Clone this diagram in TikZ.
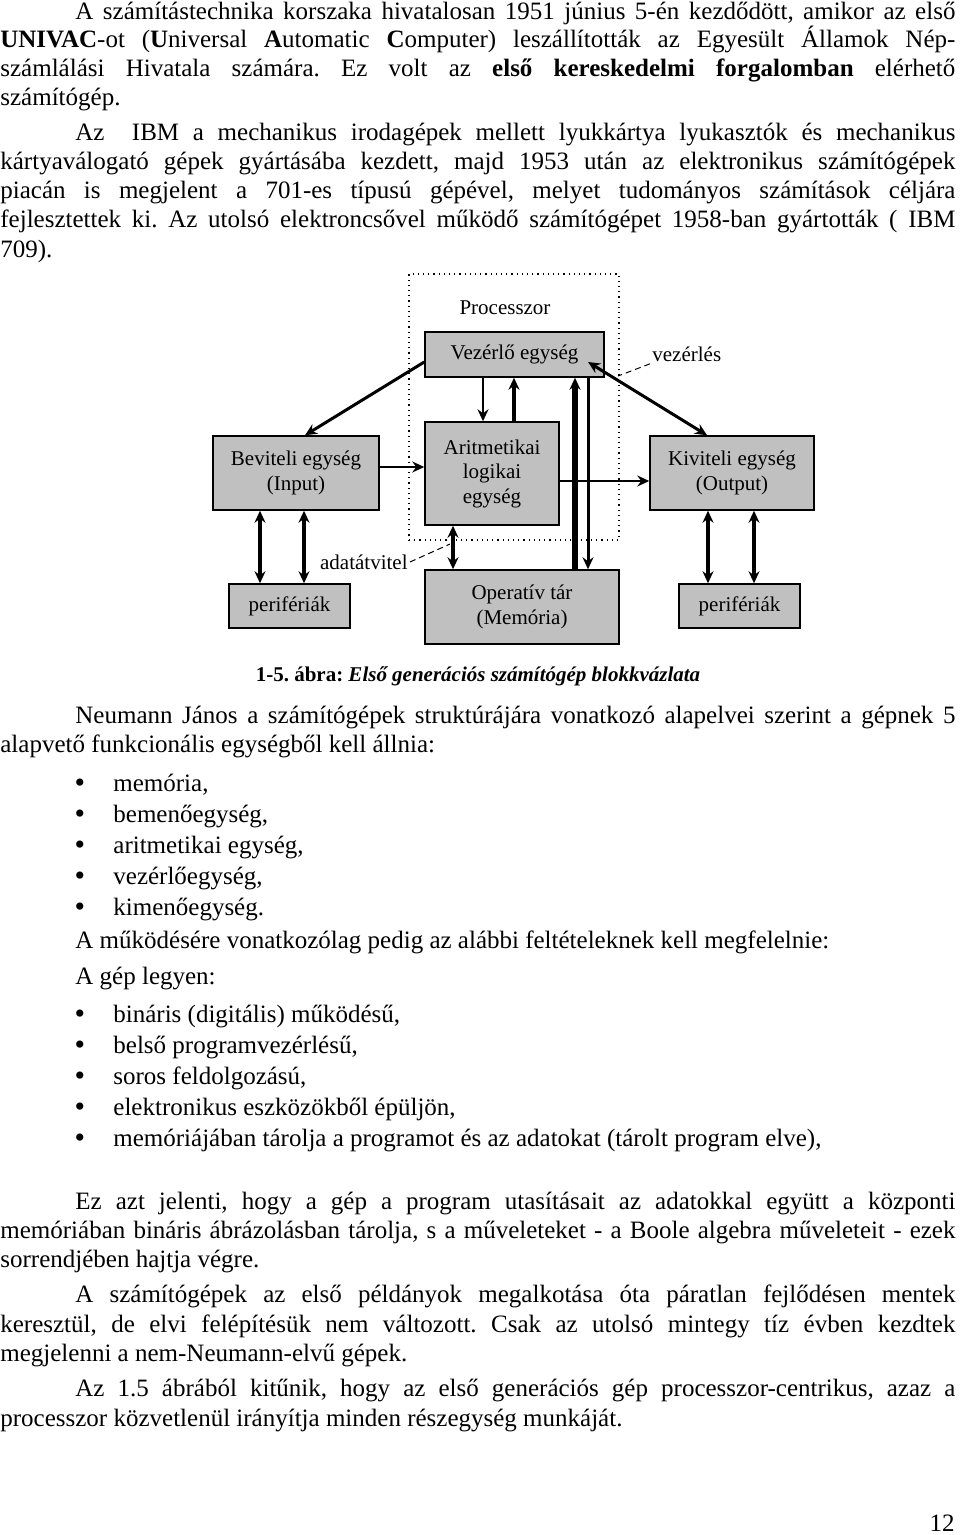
\documentclass[tikz,border=0pt]{standalone}
\usepackage{fontspec}
\setmainfont{Liberation Serif}
\frenchspacing
\usetikzlibrary{arrows.meta,calc}

\definecolor{boxgray}{RGB}{192,192,192}
\newlength\pxu
\setlength\pxu{0.5pt}
\newcommand\bodyfont{\fontsize{12.5}{15}\selectfont}
\newcommand\figfont{\fontsize{10.5}{12.25}\selectfont}
\newcommand\fulline[1]{\makebox[955\pxu][s]{#1}}
\newcommand\indline[1]{\makebox[880\pxu][s]{#1}}

\tikzset{
  txt/.style={anchor=base west, inner sep=0pt, font=\bodyfont},
  dot/.style={anchor=base, inner sep=0pt, font=\fontsize{15}{15}\selectfont},
  blk/.style={draw, line width=0.75pt, fill=boxgray, font=\figfont, align=center, inner sep=1pt},
  lbl/.style={font=\figfont, inner sep=1pt},
  tip/.tip={Stealth[length=6pt, width=5.5pt, inset=2pt]},
  arr/.style={line width=1.4pt, -tip},
  arrboth/.style={line width=1.8pt, tip-tip},
  lead/.style={densely dashed, line width=0.5pt},
}

\begin{document}
\begin{tikzpicture}[x=\pxu, y=-\pxu]
  \useasboundingbox (0,0) rectangle (960,1535);

  % text above the figure
  \node[txt] (t1) at (75,20) {\indline{A számítástechnika korszaka hivatalosan 1951 június 5-én kezdődött, amikor az első}};
  \node[txt] (t2) at (0,48) {\fulline{\textbf{UNIVAC}-ot (\textbf{U}niversal \textbf{A}utomatic \textbf{C}omputer) leszállították az Egyesült Államok Nép-}};
  \node[txt] (t3) at (0,77) {\fulline{számlálási Hivatala számára. Ez volt az \textbf{első kereskedelmi forgalomban} elérhető}};
  \node[txt] (t4) at (0,106) {számítógép.};
  \node[txt] (t5) at (75,141) {\indline{Az\ \ IBM a mechanikus irodagépek mellett lyukkártya lyukasztók és mechanikus}};
  \node[txt] (t6) at (0,170) {\fulline{kártyaválogató gépek gyártásába kezdett, majd 1953 után az elektronikus számítógépek}};
  \node[txt] (t7) at (0,199) {\fulline{piacán is megjelent a 701-es típusú gépével, melyet tudományos számítások céljára}};
  \node[txt] (t8) at (0,228) {\fulline{fejlesztettek ki. Az utolsó elektroncsővel működő számítógépet 1958-ban gyártották ( IBM}};
  \node[txt] (t9) at (0,258) {709).};

  % block diagram
  \node[draw, dotted, line width=0.6pt, minimum width=210\pxu, minimum height=266\pxu] (proc) at (514,407) {};
  \node[lbl] (proclbl) at (505,308) {Processzor};
  \node[blk, minimum width=179\pxu, minimum height=45\pxu] (vez) at (514.5,354.5) {Vezérlő egység};
  \node[blk, minimum width=134\pxu, minimum height=103\pxu] (alu) at (492,473.5) {Aritmetikai\\logikai\\egység};
  \node[blk, minimum width=166\pxu, minimum height=74\pxu] (bev) at (296,473) {Beviteli egység\\(Input)};
  \node[blk, minimum width=164\pxu, minimum height=74\pxu] (kiv) at (732,473) {Kiviteli egység\\(Output)};
  \node[blk, minimum width=194\pxu, minimum height=74\pxu] (mem) at (522,607) {Operatív tár\\(Memória)};
  \node[blk, minimum width=121\pxu, minimum height=44\pxu] (perbe) at (289.5,606) {perifériák};
  \node[blk, minimum width=121\pxu, minimum height=44\pxu] (perki) at (739.5,606) {perifériák};
  \node[lbl, anchor=west] (vezlbl) at (650,354) {vezérlés};
  \node[lbl, anchor=east] (adatlbl) at (410,562) {adatátvitel};
  \coordinate (vezpt) at (618,376);
  \coordinate (adatpt) at (450,544);

  \draw[arr, line width=1.5pt] (vez.west |- 0,362) -- (bev.north -| 305,0);
  \draw[arrboth, line width=1.5pt] ($(vez.center)+(73.5,7.5)$) -- (kiv.north -| 707,0);
  \draw[arr, line width=1pt] (vez.south -| 483,0) -- (alu.north -| 483,0);
  \draw[arr, line width=2pt] (alu.north -| 514,0) -- (vez.south -| 514,0);
  \draw[arr, line width=2.6pt] (mem.north -| 575,0) -- (vez.south -| 575,0);
  \draw[arr, line width=1.5pt] (vez.south -| 588,0) -- (mem.north -| 588,0);
  \draw[arr, line width=1.2pt] (bev.east |- 0,467) -- (alu.west |- 0,467);
  \draw[arr, line width=1.2pt] (alu.east |- 0,481) -- (kiv.west |- 0,481);
  \draw[arrboth] (alu.south -| 453,0) -- (mem.north -| 453,0);
  \foreach \x in {260,304}
    \draw[arrboth] (bev.south -| \x,0) -- (perbe.north -| \x,0);
  \foreach \x in {708,754}
    \draw[arrboth] (kiv.south -| \x,0) -- (perki.north -| \x,0);
  \draw[lead] (vezlbl.south west) -- (vezpt);
  \draw[lead] (adatlbl.east) -- (adatpt);

  \node[anchor=base, inner sep=0pt, font=\fontsize{10.5}{12}\selectfont] (cap) at (478,681)
    {\textbf{1-5. ábra: \textit{Első generációs számítógép blokkvázlata}}};

  % text below the figure
  \node[txt] (n1) at (75,723) {\indline{Neumann János a számítógépek struktúrájára vonatkozó alapelvei szerint a gépnek 5}};
  \node[txt] (n2) at (0,752) {alapvető funkcionális egységből kell állnia:};
  \foreach \y/\s [count=\i] in {791/{memória,}, 822/{bemenőegység,}, 853/{aritmetikai egység,},
      884/{vezérlőegység,}, 915/{kimenőegység.}} {
    \node[dot] (pa\i) at (80,\y+1) {•};
    \node[txt] (ea\i) at (113,\y) {\s};
  }
  \node[txt] (m1) at (75,948) {A működésére vonatkozólag pedig az alábbi feltételeknek kell megfelelnie:};
  \node[txt] (m2) at (75,984) {A gép legyen:};
  \foreach \y/\s [count=\i] in {1022/{bináris (digitális) működésű,}, 1053/{belső programvezérlésű,},
      1084/{soros feldolgozású,}, 1115/{elektronikus eszközökből épüljön,},
      1146/{memóriájában tárolja a programot és az adatokat (tárolt program elve),}} {
    \node[dot] (pb\i) at (80,\y+1) {•};
    \node[txt] (eb\i) at (113,\y) {\s};
  }
  \node[txt] (e1) at (75,1209) {\indline{Ez azt jelenti, hogy a gép a program utasításait az adatokkal együtt a központi}};
  \node[txt] (e2) at (0,1238) {\fulline{memóriában bináris ábrázolásban tárolja, s a műveleteket - a Boole algebra műveleteit - ezek}};
  \node[txt] (e3) at (0,1267) {sorrendjében hajtja végre.};
  \node[txt] (s1) at (75,1302) {\indline{A számítógépek az első példányok megalkotása óta páratlan fejlődésen mentek}};
  \node[txt] (s2) at (0,1332) {\fulline{keresztül, de elvi felépítésük nem változott. Csak az utolsó mintegy tíz évben kezdtek}};
  \node[txt] (s3) at (0,1361) {megjelenni a nem-Neumann-elvű gépek.};
  \node[txt] (z1) at (75,1396) {\indline{Az 1.5 ábrából kitűnik, hogy az első generációs gép processzor-centrikus, azaz a}};
  \node[txt] (z2) at (0,1426) {processzor közvetlenül irányítja minden részegység munkáját.};
  \node[txt, anchor=base east] (pg) at (955,1531) {12};
\end{tikzpicture}
\end{document}
